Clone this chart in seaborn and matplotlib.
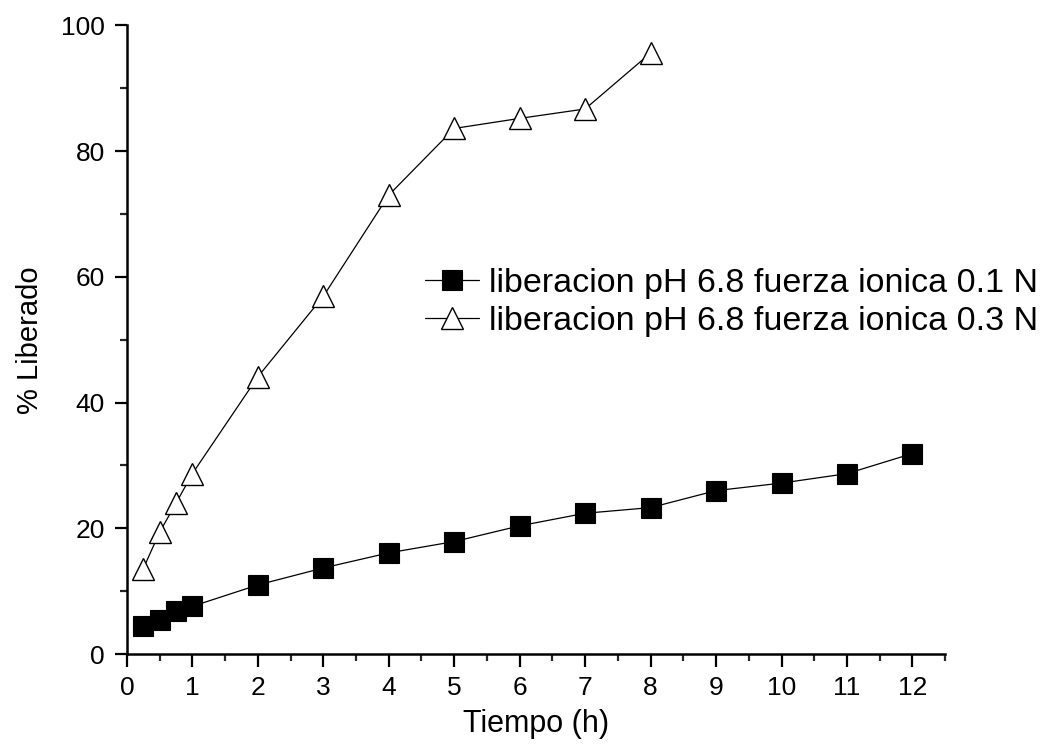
import matplotlib
matplotlib.use("Agg")
import matplotlib.pyplot as plt
from matplotlib.ticker import MultipleLocator
import numpy as np
import pandas as pd
import seaborn as sns

# Release data (time in hours, % released)
tiempo_01 = [0.25, 0.5, 0.75, 1, 2, 3, 4, 5, 6, 7, 8, 9, 10, 11, 12]
liberado_01 = [4.5, 5.4, 6.8, 7.6, 11.0, 13.7, 16.1, 17.9, 20.4, 22.4, 23.3, 26.0, 27.2, 28.7, 31.9]

tiempo_03 = [0.25, 0.5, 0.75, 1, 2, 3, 4, 5, 6, 7, 8]
liberado_03 = [13.6, 19.4, 24.0, 28.7, 44.1, 56.9, 73.0, 83.6, 85.2, 86.7, 95.6]

etiqueta_01 = "liberacion pH 6.8 fuerza ionica 0.1 N"
etiqueta_03 = "liberacion pH 6.8 fuerza ionica 0.3 N"

df01 = pd.DataFrame({"t": tiempo_01, "y": liberado_01})
df03 = pd.DataFrame({"t": tiempo_03, "y": liberado_03})

sns.set_style("ticks")
plt.rcParams["font.family"] = ["Liberation Sans", "DejaVu Sans"]
plt.rcParams["text.color"] = "black"
plt.rcParams["axes.labelcolor"] = "black"

fig = plt.figure(figsize=(10.49, 7.45), dpi=100)
ax = fig.add_axes([0.121, 0.122, 0.780, 0.844])

sns.lineplot(data=df01, x="t", y="y", ax=ax, color="black", linewidth=0.9,
             marker="s", markersize=14, markerfacecolor="black",
             markeredgecolor="black", markeredgewidth=0.8, label=etiqueta_01)
sns.lineplot(data=df03, x="t", y="y", ax=ax, color="black", linewidth=0.9,
             marker="^", markersize=16, markerfacecolor="white",
             markeredgecolor="black", markeredgewidth=1.0, label=etiqueta_03)

ax.set_xlim(0, 12.5)
ax.set_ylim(0, 100)
ax.xaxis.set_major_locator(MultipleLocator(1))
ax.xaxis.set_minor_locator(MultipleLocator(0.5))
ax.yaxis.set_major_locator(MultipleLocator(20))
ax.yaxis.set_minor_locator(MultipleLocator(10))

for side in ("top", "right"):
    ax.spines[side].set_visible(False)
for side in ("left", "bottom"):
    ax.spines[side].set_linewidth(1.8)
    ax.spines[side].set_color("black")

ax.tick_params(which="major", direction="out", length=9, width=1.6,
               labelsize=19, colors="black", pad=7)
ax.tick_params(which="minor", direction="out", length=5, width=1.6)

ax.set_xlabel("Tiempo (h)", fontsize=22, labelpad=6)
ax.set_ylabel("% Liberado", fontsize=21, labelpad=12)

leg = ax.legend(loc="center left", bbox_to_anchor=(0.405, 0.594),
                bbox_transform=fig.transFigure, frameon=False, fontsize=24.5,
                handlelength=1.6, handletextpad=0.3, labelspacing=0.2,
                borderpad=0, borderaxespad=0)

fig.savefig("out.png", dpi=100)
